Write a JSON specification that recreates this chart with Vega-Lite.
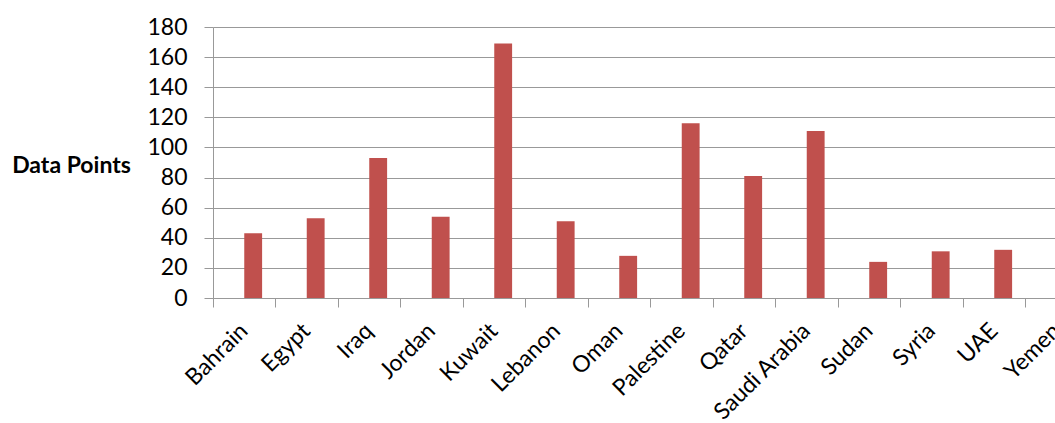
{
  "$schema": "https://vega.github.io/schema/vega-lite/v6.json",
  "autosize": "none",
  "width": 842,
  "height": 271,
  "padding": {"left": 213, "top": 27, "right": 0, "bottom": 125},
  "background": "white",
  "config": {
    "view": {"stroke": null},
    "font": "Lato",
    "axis": {"labelFont": "Lato", "titleFont": "Lato", "labelColor": "#000", "titleColor": "#000"}
  },
  "data": {
    "values": [
      {"country": "Bahrain", "series": "b", "points": 43},
      {"country": "Egypt", "series": "b", "points": 53},
      {"country": "Iraq", "series": "b", "points": 93},
      {"country": "Jordan", "series": "b", "points": 54},
      {"country": "Kuwait", "series": "b", "points": 169},
      {"country": "Lebanon", "series": "b", "points": 51},
      {"country": "Oman", "series": "b", "points": 28},
      {"country": "Palestine", "series": "b", "points": 116},
      {"country": "Qatar", "series": "b", "points": 81},
      {"country": "Saudi Arabia", "series": "b", "points": 111},
      {"country": "Sudan", "series": "b", "points": 24},
      {"country": "Syria", "series": "b", "points": 31},
      {"country": "UAE", "series": "b", "points": 32},
      {"country": "Yemen", "series": "b", "points": 20}
    ]
  },
  "mark": {"type": "bar", "color": "#C0504D"},
  "encoding": {
    "x": {
      "field": "country",
      "type": "nominal",
      "sort": null,
      "scale": {"range": [0, 875], "paddingInner": 0, "paddingOuter": 0},
      "axis": {
        "title": null,
        "bandPosition": 0,
        "labelAngle": -45,
        "labelAlign": "right",
        "labelBaseline": "middle",
        "labelPadding": 20,
        "labelFontSize": 23,
        "tickSize": 9,
        "tickColor": "#999",
        "domainColor": "#999",
        "grid": false
      }
    },
    "xOffset": {
      "field": "series",
      "type": "nominal",
      "scale": {"domain": ["a", "b"], "paddingInner": 0, "paddingOuter": 0.75}
    },
    "y": {
      "field": "points",
      "type": "quantitative",
      "scale": {"domain": [0, 180], "nice": false},
      "axis": {
        "title": "Data Points",
        "titleAngle": 0,
        "titleFontWeight": "bold",
        "titleFontSize": 23,
        "titleAlign": "center",
        "titleBaseline": "middle",
        "titleX": -142,
        "titleY": 138,
        "values": [0, 20, 40, 60, 80, 100, 120, 140, 160, 180],
        "labelFontSize": 23,
        "labelPadding": 17,
        "tickSize": 9,
        "tickColor": "#999",
        "domainColor": "#999",
        "grid": true,
        "gridColor": "#999"
      }
    }
  }
}
